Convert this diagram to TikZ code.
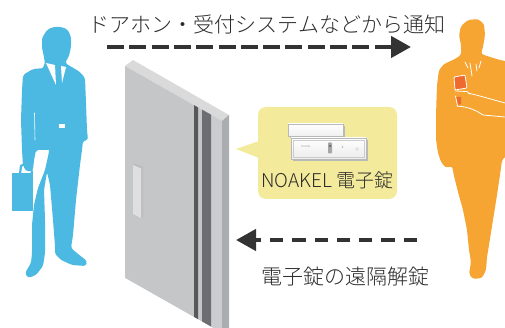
\documentclass[tikz,border=0pt]{standalone}
\usepackage{fontspec}
\setmainfont{Noto Sans CJK JP Light}
\usetikzlibrary{arrows.meta}

\definecolor{manblue}{HTML}{4BB9E1}
\definecolor{manorange}{HTML}{F6A532}
\definecolor{phonered}{HTML}{EE6A2E}
\definecolor{arrowgray}{HTML}{333333}
\definecolor{textgray}{HTML}{2B2B2B}
\definecolor{noteyellow}{HTML}{F3EB9B}
\definecolor{doorfront}{HTML}{C5C6C8}
\definecolor{doorlight}{HTML}{CBCCCE}
\definecolor{doorside}{HTML}{ABACAF}
\definecolor{doortop}{HTML}{DADADB}
\definecolor{stripedark}{HTML}{58585A}
\definecolor{stripemid}{HTML}{6D6E71}
\definecolor{handleside}{HTML}{BDBDBF}
\definecolor{handlefront}{HTML}{DFDFE0}

\tikzset{
  caption/.style={inner sep=0pt, text=textgray, font=\fontsize{21pt}{21pt}\selectfont},
  flow/.style={line width=4.4pt, arrowgray, -{Triangle[length=20pt,width=21pt]}},
  outline/.style={white, line width=0.8pt, line cap=round}
}

\begin{document}
\begin{tikzpicture}[x=1pt,y=-1pt]
\clip (0,0) rectangle (505,328);

% door
\fill[doortop] (125,66) -- (133,60) -- (229,115) -- (222,121) -- cycle;
\fill[doorfront] (125,66) -- (222,121) -- (222,330) -- (125,330) -- cycle;
\fill[doorlight] (211,114.8) -- (222,121) -- (222,330) -- (211,330) -- cycle;
\fill[doorside] (222,121) -- (229,115) -- (229,330) -- (222,330) -- cycle;
\fill[stripedark] (194,105.1) -- (198,107.4) -- (198,330) -- (194,330) -- cycle;
\fill[stripemid] (202,109.6) -- (211,114.7) -- (211,330) -- (202,330) -- cycle;
\fill[white] (125,278) -- (230,337.5) -- (125,337.5) -- cycle;
% handle
\fill[handleside] (133,165) -- (135,163.5) -- (143,167) -- (143,217) -- (141,218) -- cycle;
\fill[handlefront] (133,165) -- (141,168.5) -- (141,218) -- (133,214) -- cycle;

% man at the door
\fill[manblue, rounded corners=2.5pt]
  (47,30) -- (53,27) -- (62,27) -- (68,30) -- (71,37) -- (71,47) -- (69,56)
  -- (65,63) -- (70,66) -- (80,72) -- (85,78) -- (86,103) -- (87,130)
  -- (88,140) -- (83,141) -- (82,150) -- (80,165) -- (76,200) -- (73,235)
  -- (71,248) -- (78,254) -- (87,261) -- (86,266) -- (72,265) -- (61,260)
  -- (55,254) -- (55,246) -- (53,220) -- (50,185) -- (47,172) -- (44,190)
  -- (45,220) -- (45,253) -- (43,266) -- (36,275) -- (28,278) -- (25,273)
  -- (31,263) -- (32,253) -- (32,225) -- (34,205) -- (38,188) -- (45,170)
  -- (49,152) -- (48,120) -- (40,72) -- (45,64) -- (44,57) -- (42,48)
  -- (42,38) -- cycle;
\fill[manblue, rounded corners=2pt]
  (23,75) -- (33,69) -- (45,68) -- (48,110) -- (50,150) -- (36,150)
  -- (34,160) -- (33,170) -- (27,172) -- (23,166) -- (22,150) -- (21,120)
  -- (22,90) -- cycle;
\draw[outline, line width=0.6pt] (34.5,113) -- (35,140);
\fill[manblue] (12,173) rectangle (33,211);
\draw[manblue, line width=2.2pt] (20,174) -- (21,166) -- (26,163) -- (31,166) -- (32,174);
\fill[white] (46,63) -- (55,65) -- (56,85) -- cycle;
\fill[white] (61,66) -- (66,67) -- (62,83) -- cycle;
\fill[white] (59,124) rectangle (65,128.5);

% man with the phone
\fill[manorange, rounded corners=2.5pt]
  (468,20) -- (478,19) -- (484,24) -- (485,35) -- (483,47) -- (481,54)
  -- (490,57) -- (500,60) -- (510,62) -- (510,152) -- (502,160) -- (500,175)
  -- (497,195) -- (493,220) -- (489,245) -- (487,257) -- (486,270)
  -- (482,278) -- (473,279) -- (469,274) -- (471,262) -- (469,250)
  -- (467,230) -- (463,210) -- (458,192) -- (454,176) -- (452,166)
  -- (446,168) -- (441,162) -- (438,153) -- (436,140) -- (436,115)
  -- (437,85) -- (439,70) -- (444,64) -- (455,59) -- (461,55) -- (461,45)
  -- (459,35) -- (461,26) -- cycle;
\fill[phonered, draw=white, line width=0.8pt, rounded corners=1pt]
  (454,77) -- (465,75) -- (467,88) -- (455,90) -- cycle;
\fill[phonered] (456,97) -- (461,97) -- (461,104) -- (458,105) -- cycle;
\draw[outline] (455.5,96) -- (457.5,106);
\draw[outline] (455,91) -- (467,91.5) -- (470,94);
\draw[outline] (468,93) .. controls (480,96) .. (505,103);
\draw[outline] (457,106) .. controls (470,107) and (477,111) .. (483,115) -- (505,117);
\draw[outline] (465,62) -- (468,68);
\draw[outline] (470,63) -- (472,76);
\draw[outline] (476,64) -- (477,71);
\draw[outline] (481,61) -- (479,68);

% callout with the lock
\fill[noteyellow, rounded corners=8pt] (258,107) rectangle (397,199);
\fill[noteyellow] (259,141) -- (236,149) -- (259,158) -- cycle;
\fill[gray!55] (289.5,126) rectangle (344.5,138);
\shade[top color=white, bottom color=gray!12, draw=gray!55, line width=0.4pt]
  (288,124) rectangle (343,136);
\fill[gray!55] (292.5,140) rectangle (367.5,161);
\shade[top color=white, bottom color=gray!15, draw=gray!55, line width=0.4pt]
  (291,138) rectangle (366,159);
\draw[gray!40, line width=0.3pt] (293,140) rectangle (364,157);
\node[inner sep=0pt, text=gray, font=\fontsize{2.6pt}{3pt}\selectfont] (devlabel) at (306,146.5) {NOAKEL};
\fill[gray!70, rounded corners=0.8pt] (328,142.5) rectangle (332,153.5);
\fill[black!70] (330,146) circle (1pt);
\fill[gray!60] (342.5,147) circle (0.9pt);
\draw[gray!60, line width=0.3pt] (357,149) circle (1.5pt);
\node[caption, font=\fontsize{19pt}{19pt}\selectfont] (lockname) at (327.5,180) {NOAKEL 電子錠};

% notification and remote unlock
\coordinate (notifyfrom) at (107,47);
\coordinate (notifyto) at (411,47);
\coordinate (unlockfrom) at (417,240);
\coordinate (unlockto) at (236,240);
\node[caption] (notify) at (267,25) {ドアホン・受付システムなどから通知};
\draw[flow, dash pattern=on 17pt off 5.3pt] (notifyfrom) -- (notifyto);
\draw[flow, dash pattern=on 13.3pt off 9pt] (unlockfrom) -- (unlockto);
\node[caption] (unlock) at (345.5,277) {電子錠の遠隔解錠};
\end{tikzpicture}
\end{document}
